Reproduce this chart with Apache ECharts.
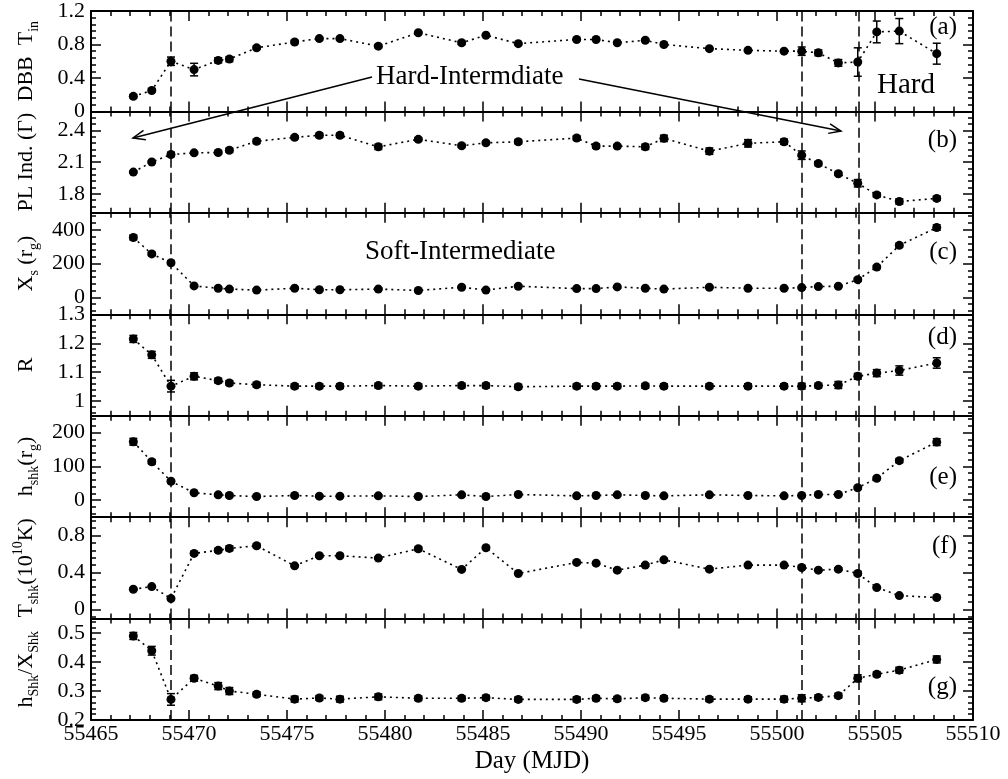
<!DOCTYPE html>
<html>
<head>
<meta charset="utf-8">
<script src="https://cdn.jsdelivr.net/npm/echarts@6/dist/echarts.min.js"></script>
<style>
  html, body { margin: 0; background: #fff; }
  #main { width: 1008px; height: 779px; }
</style>
</head>
<body>
<div id="main"></div>
<script>
// observation days (MJD)
var days = [55467.16, 55468.10, 55469.08, 55470.26, 55471.49, 55472.06, 55473.45, 55475.39, 55476.65, 55477.70,
            55479.66, 55481.70, 55483.91, 55485.15, 55486.80, 55489.78, 55490.77, 55491.85, 55493.28, 55494.23,
            55496.55, 55498.52, 55500.36, 55501.26, 55502.11, 55503.13, 55504.12, 55505.09, 55506.24, 55508.15];
// state transition days (dashed lines)
var transitions = [55469.08, 55501.26, 55504.15];

// (a) DBB T_in
var tin    = [0.18, 0.25, 0.60, 0.50, 0.61, 0.625, 0.76, 0.83, 0.87, 0.87, 0.78, 0.94, 0.82, 0.91, 0.81,
              0.86, 0.86, 0.82, 0.85, 0.80, 0.75, 0.73, 0.72, 0.72, 0.70, 0.58, 0.59, 0.95, 0.96, 0.69];
var tinErr = [0.02, 0.02, 0.05, 0.075, 0.03, 0.03, 0.02, 0.02, 0.015, 0.015, 0.02, 0.01, 0.02, 0.01, 0.01,
              0.01, 0.01, 0.01, 0.015, 0.02, 0.01, 0.01, 0.015, 0.05, 0.035, 0.04, 0.17, 0.13, 0.15, 0.125];
// (b) PL index
var gamma    = [2.006, 2.101, 2.172, 2.188, 2.191, 2.213, 2.297, 2.335, 2.354, 2.354, 2.245, 2.316, 2.255, 2.283, 2.293,
                2.328, 2.252, 2.252, 2.245, 2.325, 2.204, 2.278, 2.293, 2.166, 2.086, 1.99, 1.90, 1.79, 1.728, 1.757];
var gammaErr = [0.01, 0.01, 0.02, 0.01, 0.015, 0.02, 0.02, 0.015, 0.02, 0.02, 0.025, 0.015, 0.015, 0.015, 0.02,
                0.02, 0.02, 0.015, 0.025, 0.03, 0.03, 0.035, 0.025, 0.04, 0.02, 0.015, 0.035, 0.02, 0.025, 0.02];
// (c) X_s
var xs    = [354, 257, 205, 68, 54, 49, 43, 54, 45, 45, 49, 41, 60, 43, 66,
             52, 52, 62, 54, 49, 60, 54, 54, 58, 64, 66, 105, 179, 308, 413];
var xsErr = [14, 10, 10, 6, 6, 6, 6, 6, 6, 6, 6, 6, 6, 6, 6,
             6, 6, 6, 6, 6, 6, 6, 6, 6, 6, 6, 10, 10, 12, 16];
// (d) R
var rr    = [1.215, 1.160, 1.052, 1.086, 1.071, 1.063, 1.057, 1.052, 1.052, 1.052, 1.054, 1.052, 1.054, 1.054, 1.050,
             1.052, 1.052, 1.052, 1.053, 1.052, 1.052, 1.052, 1.052, 1.052, 1.054, 1.056, 1.086, 1.097, 1.106, 1.132];
var rrErr = [0.012, 0.012, 0.02, 0.012, 0.008, 0.008, 0.008, 0.008, 0.008, 0.008, 0.008, 0.008, 0.008, 0.008, 0.008,
             0.008, 0.008, 0.008, 0.008, 0.008, 0.008, 0.008, 0.008, 0.01, 0.008, 0.012, 0.01, 0.012, 0.016, 0.018];
// (e) h_shk
var hshk    = [173, 114, 56, 22, 16, 14, 11, 14, 12, 12, 13, 11, 16, 11, 17,
               13, 14, 16, 14, 13, 16, 14, 13, 14, 17, 17, 37, 65, 117, 172];
var hshkErr = [10, 6, 5, 4, 4, 4, 3, 3, 3, 3, 3, 3, 3, 3, 3,
               3, 3, 3, 3, 3, 3, 3, 3, 3, 3, 3, 4, 4, 6, 10];
// (f) T_shk
var tshk    = [0.218, 0.247, 0.117, 0.607, 0.640, 0.661, 0.690, 0.472, 0.581, 0.581, 0.556, 0.657, 0.433, 0.668, 0.389,
               0.509, 0.501, 0.425, 0.48, 0.537, 0.436, 0.48, 0.48, 0.454, 0.425, 0.436, 0.389, 0.236, 0.149, 0.128];
var tshkErr = [0.01, 0.01, 0.015, 0.02, 0.02, 0.025, 0.02, 0.01, 0.015, 0.015, 0.01, 0.02, 0.01, 0.015, 0.01,
               0.01, 0.015, 0.015, 0.015, 0.015, 0.015, 0.015, 0.015, 0.02, 0.01, 0.015, 0.02, 0.01, 0.01, 0.01];
// (g) h_shk / X_shk
var ratio    = [0.490, 0.439, 0.271, 0.344, 0.317, 0.300, 0.289, 0.272, 0.276, 0.272, 0.280, 0.275, 0.275, 0.277, 0.271,
                0.271, 0.275, 0.273, 0.277, 0.275, 0.272, 0.272, 0.272, 0.275, 0.278, 0.284, 0.344, 0.358, 0.372, 0.409];
var ratioErr = [0.012, 0.015, 0.02, 0.01, 0.012, 0.012, 0.008, 0.01, 0.008, 0.01, 0.01, 0.008, 0.008, 0.008, 0.008,
                0.008, 0.008, 0.008, 0.008, 0.008, 0.008, 0.008, 0.01, 0.012, 0.008, 0.008, 0.012, 0.008, 0.01, 0.012];

// tick labels
var dayTicks   = [55465, 55470, 55475, 55480, 55485, 55490, 55495, 55500, 55505, 55510];
var tinTicks   = [0, 0.4, 0.8, 1.2];
var gammaTicks = [1.8, 2.1, 2.4];
var xsTicks    = [0, 200, 400];
var rrTicks    = [1, 1.1, 1.2, 1.3];
var hshkTicks  = [0, 100, 200];
var tshkTicks  = [0, 0.4, 0.8];
var ratioTicks = [0.2, 0.3, 0.4, 0.5];

var FONT = 'Liberation Serif';

var panels = [
  {vals: tin,   errs: tinErr,   min: 0,    max: 1.2,  ticks: tinTicks,   minor: 0.08, name: 'DBB  T{sub|in}', tag: '(a)', tagY: 27},
  {vals: gamma, errs: gammaErr, min: 1.62, max: 2.58, ticks: gammaTicks, minor: 0.06, name: 'PL Ind. (Γ)',    tag: '(b)', tagY: 140},
  {vals: xs,    errs: xsErr,    min: -100, max: 500,  ticks: xsTicks,    minor: 40,   name: 'X{sub|s} (r{sub|g})', tag: '(c)', tagY: 252},
  {vals: rr,    errs: rrErr,    min: 0.95, max: 1.3,  ticks: rrTicks,    minor: 0.02, name: 'R',              tag: '(d)', tagY: 337},
  {vals: hshk,  errs: hshkErr,  min: -50,  max: 250,  ticks: hshkTicks,  minor: 20,   name: 'h{sub|shk}(r{sub|g})', tag: '(e)', tagY: 477},
  {vals: tshk,  errs: tshkErr,  min: -0.1, max: 1.0,  ticks: tshkTicks,  minor: 0.08, name: 'T{sub|shk}(10{sup|10}K)', tag: '(f)', tagY: 546},
  {vals: ratio, errs: ratioErr, min: 0.2,  max: 0.55, ticks: ratioTicks, minor: 0.02, name: 'h{sub|Shk}/X{sub|Shk}', tag: '(g)', tagY: 687}
];

function steps(lo, hi, step) {
  var out = [];
  for (var k = Math.ceil(lo / step - 1e-9); k * step <= hi + 1e-9; k++) out.push(+(k * step).toFixed(6));
  return out;
}

function errRender(params, api) {
  var x = api.value(0), v = api.value(1), e = api.value(2);
  var hi = api.coord([x, v + e]), lo = api.coord([x, v - e]);
  var w = 4, st = {stroke: '#000', lineWidth: 1.5};
  return {
    type: 'group',
    children: [
      {type: 'line', shape: {x1: hi[0], y1: hi[1], x2: lo[0], y2: lo[1]}, style: st},
      {type: 'line', shape: {x1: hi[0] - w, y1: hi[1], x2: hi[0] + w, y2: hi[1]}, style: st},
      {type: 'line', shape: {x1: lo[0] - w, y1: lo[1], x2: lo[0] + w, y2: lo[1]}, style: st}
    ]
  };
}

var plotTop = 10, plotBottom = 720;
var H = (plotBottom - plotTop) / panels.length;
var grids = [], xAxes = [], yAxes = [], series = [], graphics = [];
var lineW = {color: '#000', width: 2};
var tickW = {color: '#000', width: 1.5};
var labelStyle = {color: '#000', fontFamily: FONT, fontSize: 22};

panels.forEach(function (p, i) {
  var last = i === panels.length - 1;
  grids.push({left: 91, right: 35, top: plotTop + i * H, height: H});

  ['bottom', 'top'].forEach(function (pos) {
    var showLab = last && pos === 'bottom';
    xAxes.push({
      gridIndex: i, type: 'value', position: pos,
      min: dayTicks[0], max: dayTicks[dayTicks.length - 1], interval: 5,
      axisLine: {onZero: false, lineStyle: lineW},
      axisTick: {inside: true, length: 10, lineStyle: tickW},
      minorTick: {show: true, splitNumber: 5, length: 5, lineStyle: tickW},
      splitLine: {show: false},
      axisLabel: Object.assign({show: showLab, margin: 3, formatter: function (v) { return String(v); }}, labelStyle),
      name: showLab ? 'Day (MJD)' : '',
      nameLocation: 'middle', nameGap: 29,
      nameTextStyle: {color: '#000', fontFamily: FONT, fontSize: 25}
    });
  });

  var minors = steps(p.min, p.max, p.minor);
  ['left', 'right'].forEach(function (pos) {
    var isLeft = pos === 'left';
    yAxes.push({
      gridIndex: i, type: 'value', position: pos, min: p.min, max: p.max,
      axisLine: {onZero: false, lineStyle: lineW},
      axisTick: {inside: true, length: 10, lineStyle: tickW, customValues: p.ticks},
      splitLine: {show: false},
      axisLabel: Object.assign({show: isLeft, margin: 6, customValues: p.ticks, formatter: function (v) { return String(v); }}, labelStyle),
      name: isLeft ? p.name : '',
      nameLocation: 'middle', nameRotate: 90, nameGap: 50,
      nameTextStyle: {
        color: '#000', fontFamily: FONT, fontSize: 22, lineHeight: 30,
        rich: {
          sub: {fontFamily: FONT, fontSize: 14, lineHeight: 14, verticalAlign: 'bottom', color: '#000'},
          sup: {fontFamily: FONT, fontSize: 14, lineHeight: 14, verticalAlign: 'top', color: '#000'}
        }
      }
    });
  });
  ['left', 'right'].forEach(function (pos) {
    yAxes.push({
      gridIndex: i, type: 'value', position: pos, min: p.min, max: p.max,
      axisLine: {show: false, onZero: false},
      axisTick: {inside: true, length: 5, lineStyle: tickW, customValues: minors},
      splitLine: {show: false},
      axisLabel: {show: false}
    });
  });

  var pts = days.map(function (d, k) { return [d, p.vals[k]]; });
  series.push({
    type: 'line', xAxisIndex: 2 * i, yAxisIndex: 4 * i, data: pts,
    symbol: 'circle', symbolSize: 9,
    itemStyle: {color: '#000'},
    lineStyle: {color: '#000', width: 1.6, type: [2, 4]},
    markLine: {
      silent: true, symbol: 'none', label: {show: false},
      lineStyle: {color: '#000', width: 1.5, type: [10, 5]},
      data: transitions.map(function (d) { return {xAxis: d}; })
    }
  });
  series.push({
    type: 'custom', xAxisIndex: 2 * i, yAxisIndex: 4 * i,
    data: days.map(function (d, k) { return [d, p.vals[k], p.errs[k]]; }),
    encode: {x: 0, y: 1},
    renderItem: errRender
  });

  graphics.push({
    type: 'text', x: 957, y: p.tagY,
    style: {text: p.tag, font: '25px "' + FONT + '"', fill: '#000',
            align: 'right', verticalAlign: 'middle', textAlign: 'right', textVerticalAlign: 'middle'}
  });
});

function arrow(x1, y1, x2, y2) {
  var a = Math.atan2(y2 - y1, x2 - x1), L = 13, s = 0.38;
  var st = {stroke: '#000', lineWidth: 1.5, fill: null};
  return [
    {type: 'line', shape: {x1: x1, y1: y1, x2: x2, y2: y2}, style: st},
    {type: 'polyline', shape: {points: [
      [x2 - L * Math.cos(a - s), y2 - L * Math.sin(a - s)], [x2, y2],
      [x2 - L * Math.cos(a + s), y2 - L * Math.sin(a + s)]]}, style: st}
  ];
}

function label(txt, x, y, size) {
  return {type: 'text', x: x, y: y,
    style: {text: txt, font: size + 'px "' + FONT + '"', fill: '#000',
            align: 'left', verticalAlign: 'middle', textAlign: 'left', textVerticalAlign: 'middle'}};
}

graphics.push(label('Hard-Intermdiate', 376, 77, 27));
graphics.push(label('Hard', 877, 85, 29));
graphics.push(label('Soft-Intermediate', 365, 252, 27));
graphics = graphics.concat(arrow(372, 77, 133, 138), arrow(579, 79, 841, 131));

var chart = echarts.init(document.getElementById('main'));
chart.setOption({
  animation: false,
  backgroundColor: '#fff',
  textStyle: {fontFamily: FONT},
  grid: grids,
  xAxis: xAxes,
  yAxis: yAxes,
  series: series,
  graphic: graphics
});
</script>
</body>
</html>
